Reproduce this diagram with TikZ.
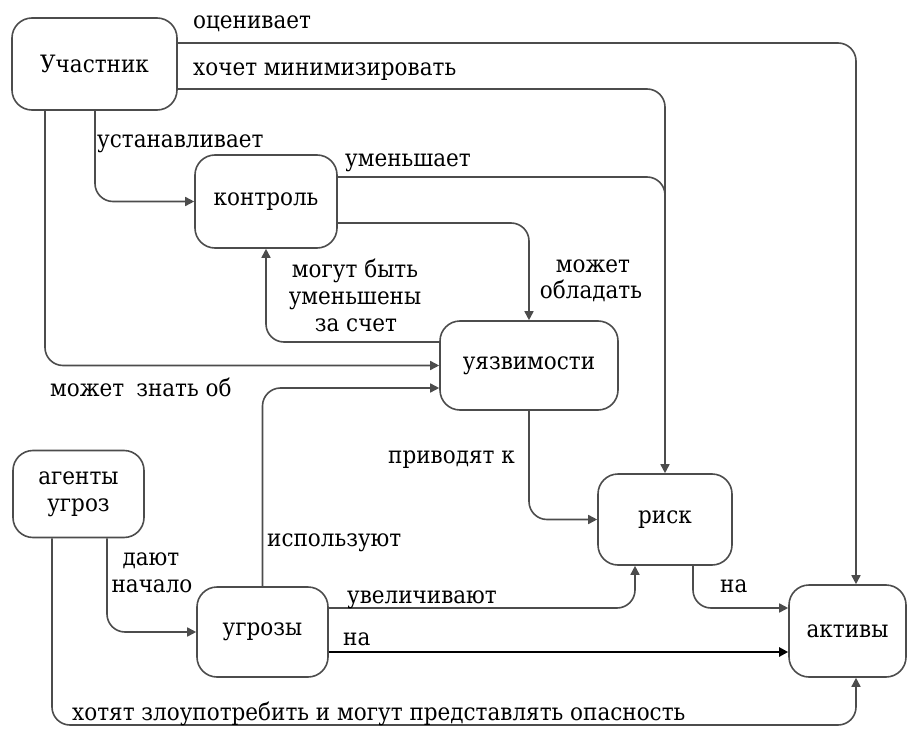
\documentclass[tikz,border=0pt]{standalone}
\usepackage{fontspec}
\newfontfamily\cyrserif{DejaVu Serif}[FakeStretch=0.9]
\usetikzlibrary{arrows.meta}
\newcommand\lblfont{\cyrserif\fontsize{24}{27}\selectfont}
\begin{document}
\begin{tikzpicture}[x=1bp,y=-1bp,
  box/.style={draw=black!70, line width=1.6bp, rounded corners=20bp,
              inner sep=0pt, font=\lblfont, align=center},
  ln/.style={draw=black!70, line width=1.6bp, rounded corners=18bp},
  arr/.style={-{Triangle[length=9bp,width=9bp]}},
  lbl/.style={font=\lblfont, inner sep=0pt, anchor=base west},
  clbl/.style={font=\lblfont, inner sep=0pt, anchor=base}]
\useasboundingbox (0,0) rectangle (910,729);

% concepts
\node[box, minimum width=165bp, minimum height=92bp] (uch)  at (94.5,64)   {Участник};
\node[box, minimum width=142bp, minimum height=93bp] (ctl)  at (266,201.5) {контроль};
\node[box, minimum width=178bp, minimum height=89bp] (vul)  at (529,365.5) {уязвимости};
\node[box, minimum width=131bp, minimum height=87bp] (ag)   at (78.5,494)  {агенты\\угроз};
\node[box, minimum width=131bp, minimum height=90bp] (thr)  at (262.5,632) {угрозы};
\node[box, minimum width=134bp, minimum height=91bp] (risk) at (665,519.5) {риск};
\node[box, minimum width=117bp, minimum height=92bp] (akt)  at (847.5,631) {активы};

% relations
\draw[ln, arr] (uch.east |- 0,43) -| (akt.north -| 856,0);
\draw[ln, arr] (uch.east |- 0,89) -| (risk.north);
\draw[ln] (ctl.east |- 0,177) -| (risk.north |- 0,230);
\draw[ln, arr] (uch.south -| 95,0) |- (ctl.west);
\draw[ln, arr] (uch.south -| 45,0) |- (vul.west);
\draw[ln, arr] (ctl.east |- 0,223) -| (vul.north);
\draw[ln, arr] (vul.west |- 0,342) -| (ctl.south);
\draw[ln, arr] (thr.north) |- (vul.west |- 0,388);
\draw[ln, arr] (vul.south) |- (risk.west);
\draw[ln, arr] (ag.south -| 107,0) |- (thr.west);
\draw[ln, arr] (ag.south -| 52,0) |- (856,725) -- (akt.south -| 856,0);
\draw[ln, arr] (thr.east |- 0,608) -| (risk.south -| 635,0);
\draw[ln, arr, draw=black, line width=2.2bp] (thr.east |- 0,652) -- (akt.west |- 0,652);
\draw[ln, arr] (risk.south -| 693,0) |- (akt.west |- 0,608);

% relation labels
\node[lbl] at (193,29) {оценивает};
\node[lbl] at (193,76) {хочет минимизировать};
\node[lbl] at (97,148) {устанавливает};
\node[lbl] at (345,167) {уменьшает};
\node[clbl] at (355,277) {могут быть};
\node[clbl] at (355,304) {уменьшены};
\node[clbl] at (356,331) {за счет};
\node[lbl] at (50,396) {может\enspace знать об};
\node[clbl] at (593,272) {может};
\node[clbl] at (591,298) {обладать};
\node[lbl] at (388,463) {приводят к};
\node[lbl] at (267,546) {используют};
\node[clbl] at (151,565) {дают};
\node[clbl] at (152,592) {начало};
\node[lbl] at (347,603) {увеличивают};
\node[lbl] at (343,645) {на};
\node[lbl] at (720,592) {на};
\node[lbl] at (72,720) {хотят злоупотребить и могут представлять опасность};
\end{tikzpicture}
\end{document}
